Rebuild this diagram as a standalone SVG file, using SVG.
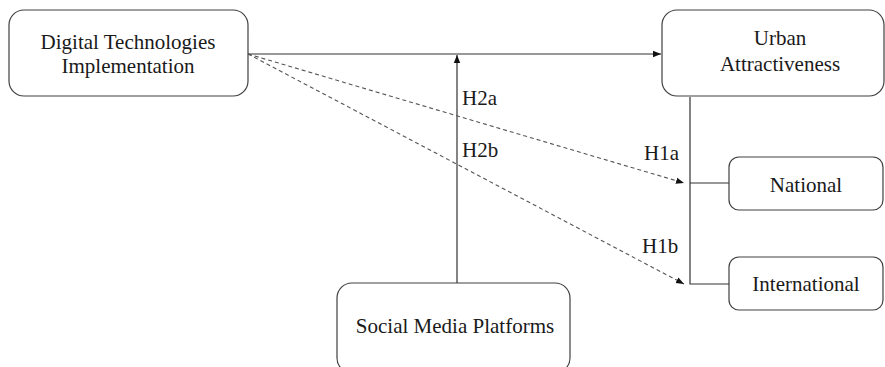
<svg xmlns="http://www.w3.org/2000/svg" width="885" height="367" viewBox="0 0 885 367">
<style>
.box{fill:#fff;stroke:#404040;stroke-width:1.2}
text{font-family:'Liberation Serif','DejaVu Serif','Times New Roman',serif;fill:#1a1a1a}
.t{font-size:21px;text-anchor:middle}
.lbl{font-size:21px}
.ln{fill:none;stroke:#333;stroke-width:1.2}
.dash{fill:none;stroke:#555;stroke-width:1.1;stroke-dasharray:4 3}
</style>
<defs>
<marker id="ah" viewBox="0 0 10 10" refX="10" refY="5" markerWidth="8" markerHeight="8" markerUnits="userSpaceOnUse" orient="auto">
<path d="M0,1 L10,5 L0,9 Z" fill="#111"/>
</marker>
</defs>
<rect width="885" height="367" fill="#fff"/>
<g id="connectors">
<line class="ln" x1="248" y1="54" x2="661" y2="54" marker-end="url(#ah)"/>
<line class="ln" x1="457" y1="283" x2="457" y2="55" marker-end="url(#ah)"/>
<polyline class="ln" points="690,97 690,284 730,284"/>
<line class="ln" x1="690" y1="183" x2="730" y2="183"/>
<line class="dash" x1="248" y1="54" x2="684" y2="183" marker-end="url(#ah)"/>
<line class="dash" x1="248" y1="54" x2="684" y2="284" marker-end="url(#ah)"/>
<text class="lbl" x="462" y="105">H2a</text>
<text class="lbl" x="462" y="157">H2b</text>
<text class="lbl" x="644" y="160">H1a</text>
<text class="lbl" x="642" y="253">H1b</text>
</g>
<g id="digital">
<rect class="box" x="9" y="10" width="239" height="86" rx="15"/>
<text class="t" x="128" y="49">Digital Technologies</text>
<text class="t" x="128" y="73">Implementation</text>
</g>
<g id="urban">
<rect class="box" x="662" y="10" width="222" height="86" rx="15"/>
<text class="t" x="780" y="45">Urban</text>
<text class="t" x="780" y="71">Attractiveness</text>
</g>
<g id="national">
<rect class="box" x="729" y="157" width="154" height="53" rx="10"/>
<text class="t" x="806" y="192">National</text>
</g>
<g id="international">
<rect class="box" x="729" y="257" width="154" height="53" rx="10"/>
<text class="t" x="806" y="291">International</text>
</g>
<g id="social">
<rect class="box" x="337" y="283" width="233" height="90" rx="15"/>
<text class="t" x="455" y="333">Social Media Platforms</text>
</g>
</svg>
